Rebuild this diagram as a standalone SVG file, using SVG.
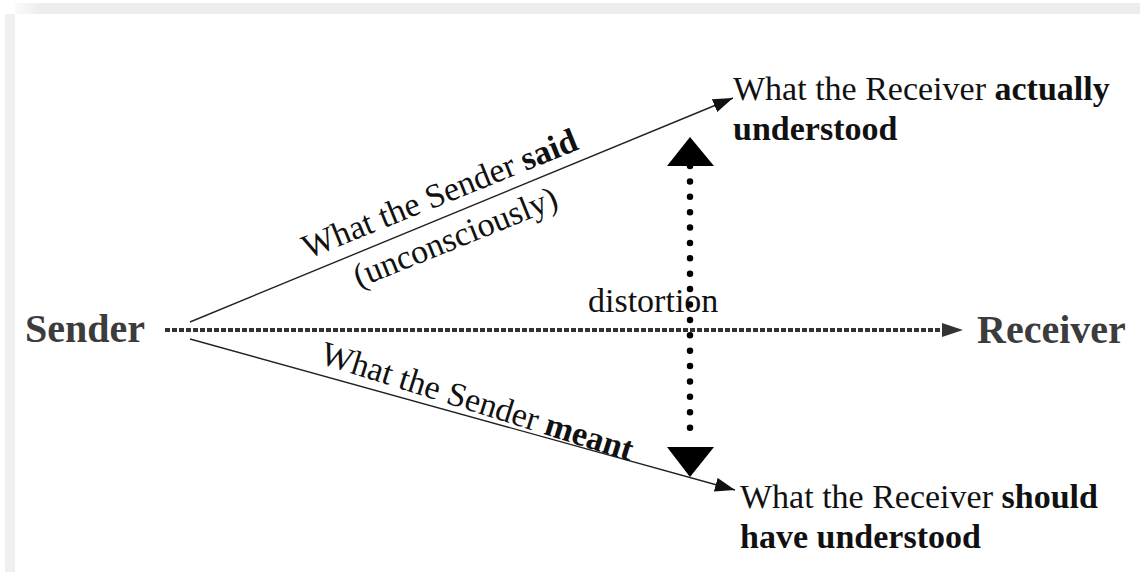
<svg xmlns="http://www.w3.org/2000/svg" width="1140" height="572" viewBox="0 0 1140 572">
  <style>
    .t { font-family: "Liberation Serif", "Times New Roman", serif; font-size: 34px; fill: #111; }
    .b { font-weight: bold; }
    .big { font-family: "Liberation Serif", "Times New Roman", serif; font-size: 40px; font-weight: bold; fill: #3c3c3c; }
    .thin { stroke: #222; stroke-width: 1.4; fill: none; }
  </style>
  <defs>
    <marker id="ah" viewBox="0 0 20 14" refX="20" refY="7" markerWidth="20" markerHeight="14" markerUnits="userSpaceOnUse" orient="auto">
      <path d="M0,0 L20,7 L0,14 Z" fill="#111"/>
    </marker>
    <linearGradient id="fadeL" x1="0" x2="1" y1="0" y2="0">
      <stop offset="0" stop-color="#fafafa"/>
      <stop offset="1" stop-color="#ededed"/>
    </linearGradient>
  </defs>
  <rect width="1140" height="572" fill="#ffffff"/>
  <rect x="15" y="3" width="25" height="11" fill="url(#fadeL)"/>
  <rect x="40" y="3" width="1100" height="11" fill="#ededed"/>
  <rect x="5" y="14" width="10" height="558" fill="#f0f0f0"/>

  <g id="sender"><text class="big" x="25" y="342">Sender</text></g>
  <g id="receiver"><text class="big" x="977" y="343">Receiver</text></g>
  <g id="actual">
    <text class="t" x="733" y="100">What the Receiver <tspan class="b">actually</tspan></text>
    <text class="t b" x="733" y="140">understood</text>
  </g>
  <g id="should">
    <text class="t" x="740" y="508">What the Receiver <tspan class="b">should</tspan></text>
    <text class="t b" x="740" y="548">have understood</text>
  </g>
  <g id="distortion-label"><text class="t" x="588" y="312">distortion</text></g>

  <g id="connectors">
    <line class="thin" x1="190" y1="322" x2="733" y2="98" marker-end="url(#ah)"/>
    <line class="thin" x1="190" y1="339" x2="735" y2="490" marker-end="url(#ah)"/>
    <line x1="165" y1="330" x2="944" y2="330" stroke="#333" stroke-width="4" stroke-dasharray="5 2"/>
    <path d="M942,323 L963,330 L942,337 Z" fill="#333"/>
    <line x1="690" y1="166" x2="690" y2="443" stroke="#000" stroke-width="6.5" stroke-linecap="round" stroke-dasharray="0 15.39"/>
    <path d="M690,137 L714,166 L667,166 Z" fill="#000"/>
    <path d="M667,447 L714,447 L690,477 Z" fill="#000"/>
  </g>

  <g id="said-label" transform="translate(444,204) rotate(-22)">
    <text class="t" x="0" y="0" text-anchor="middle">What the Sender <tspan class="b">said</tspan></text>
    <text class="t" x="-2" y="46" text-anchor="middle">(unconsciously)</text>
  </g>
  <g id="meant-label" transform="translate(474,412) rotate(17.5)">
    <text class="t" x="0" y="0" text-anchor="middle">What the Sender <tspan class="b">meant</tspan></text>
  </g>
</svg>
